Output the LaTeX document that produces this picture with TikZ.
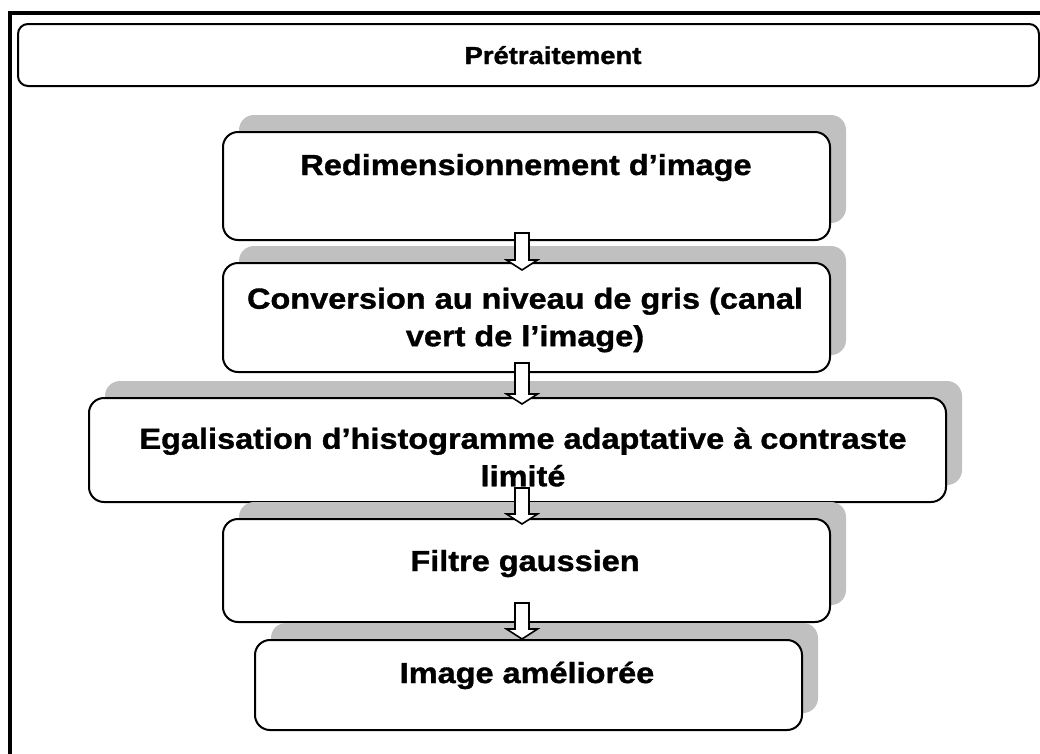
\documentclass[tikz,border=0pt]{standalone}
\usepackage{fontspec}
\setmainfont{Liberation Sans}[FakeStretch=1.12, BoldFeatures={FakeBold=1.2}]
\usetikzlibrary{calc,shadows}
\definecolor{shadowgrey}{HTML}{C0C0C0}
\tikzset{
  frame/.style={draw=black, line width=4pt},
  titlebox/.style={draw=black, line width=2pt, fill=white, rounded corners=10pt, inner sep=0pt},
  stepbox/.style={draw=black, line width=2pt, fill=white, rounded corners=15pt, inner sep=0pt,
    general shadow={fill=shadowgrey, shadow xshift=16pt, shadow yshift=17pt}},
  lbl/.style={font=\fontsize{29}{37.5}\selectfont\bfseries, align=center, inner sep=0pt},
  titlelbl/.style={font=\fontsize{24.5}{30}\selectfont\bfseries, inner sep=0pt},
  blockarrow/.style={draw=black, line width=1.6pt, fill=white, line join=miter},
}
\newcommand{\blkarrow}[4]{%
  \path ($(522,0 |- #1.south)+(0,-#3)$) coordinate (#1-out)
        ($(522,0 |- #2.north)+(0,#4)$) coordinate (#2-in);
  \draw[blockarrow] let \p1=(#1-out), \p2=(#2-in) in
    (\x1-7pt,\y1) -- (\x1+7pt,\y1) -- (\x1+7pt,\y2+10pt) -- (\x1+15.5pt,\y2+10pt)
    -- (\x1,\y2) -- (\x1-15.5pt,\y2+10pt) -- (\x1-7pt,\y2+10pt) -- cycle;
}
\begin{document}
\begin{tikzpicture}[x=1pt,y=-1pt]
  \useasboundingbox (0,0) rectangle (1040,753);
  \clip (0,0) rectangle (1040,753);
  \fill[white] (0,0) rectangle (1040,753);
  \draw[frame] (9.6,12.7) rectangle (1046,762);

  % title
  \node[titlebox, minimum width=1021pt, minimum height=62pt] (title) at (528.5,55) {};
  \node[titlelbl, anchor=base] (titletext) at (553,64) {Prétraitement};

  % steps
  \node[stepbox, minimum width=607pt, minimum height=108pt] (b1) at (526.5,186) {};
  \node[stepbox, minimum width=607pt, minimum height=109pt] (b2) at (526.5,317.5) {};
  \node[stepbox, minimum width=857pt, minimum height=104pt] (b3) at (517.5,450) {};
  \node[stepbox, minimum width=607pt, minimum height=103pt] (b4) at (526.5,570.5) {};
  \node[stepbox, minimum width=547pt, minimum height=90pt] (b5) at (528.5,685) {};

  \node[lbl, anchor=base] (t1) at (526,175) {Redimensionnement d’image};
  \node[lbl] (t2) at (525,320) {Conversion au niveau de gris (canal\\vert de l’image)};
  \node[lbl] (t3) at (523,457) {Egalisation d’histogramme adaptative à contraste\\limité};
  \node[lbl, anchor=base] (t4) at (525,571) {Filtre gaussien};
  \node[lbl, anchor=base] (t5) at (527,683) {Image améliorée};

  % block arrows
  \blkarrow{b1}{b2}{8}{8}
  \blkarrow{b2}{b3}{10}{7}
  \blkarrow{b3}{b4}{15}{6}
  \blkarrow{b4}{b5}{20}{0}
\end{tikzpicture}
\end{document}
